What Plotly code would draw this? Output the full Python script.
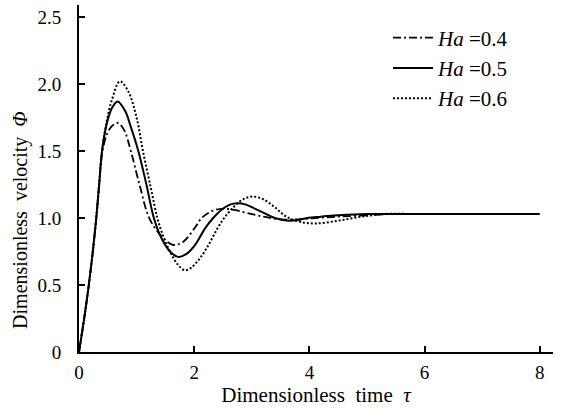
import plotly.graph_objects as go

# Ha = 0.4 (dash-dot)
tau_04 = [0, 0.1, 0.17, 0.24, 0.3, 0.35, 0.4, 0.48, 0.56, 0.67, 0.78, 0.9, 1.05, 1.22, 1.42,
          1.63, 1.8, 2.0, 2.13, 2.3, 2.5, 2.7, 2.9, 3.2, 3.5, 3.8, 4.1, 4.5, 5.0, 5.4, 5.75]
phi_04 = [0, 0.28, 0.5, 0.75, 1.0, 1.25, 1.48, 1.62, 1.68, 1.71, 1.66, 1.5, 1.25, 1.0, 0.87,
          0.80, 0.82, 0.92, 1.0, 1.05, 1.07, 1.06, 1.04, 1.01, 0.99, 0.99, 1.0, 1.01, 1.02, 1.03, 1.03]

# Ha = 0.5 (solid)
tau_05 = [0, 0.1, 0.17, 0.24, 0.3, 0.35, 0.4, 0.48, 0.57, 0.67, 0.8, 0.9, 1.03, 1.17, 1.3, 1.42,
          1.58, 1.72, 1.86, 2.0, 2.2, 2.33, 2.47, 2.62, 2.75, 2.9, 3.05, 3.2, 3.4, 3.63, 3.8, 3.96,
          4.2, 4.5, 5.0, 5.5, 6.0, 7.0, 8.0]
phi_05 = [0, 0.28, 0.5, 0.75, 1.0, 1.25, 1.5, 1.70, 1.82, 1.87, 1.80, 1.68, 1.5, 1.25, 1.0, 0.86,
          0.75, 0.71, 0.73, 0.79, 0.93, 1.0, 1.06, 1.10, 1.11, 1.10, 1.07, 1.04, 1.0, 0.98, 0.985, 1.0,
          1.01, 1.02, 1.03, 1.03, 1.03, 1.03, 1.03]

# Ha = 0.6 (dotted)
tau_06 = [0, 0.1, 0.17, 0.24, 0.3, 0.35, 0.4, 0.48, 0.57, 0.71, 0.85, 1.0, 1.11, 1.25, 1.36,
          1.45, 1.58, 1.72, 1.84, 1.95, 2.1, 2.25, 2.4, 2.52, 2.68, 2.85, 3.02, 3.2, 3.4, 3.6,
          3.85, 4.13, 4.5, 4.9, 5.3, 5.75]
phi_06 = [0, 0.28, 0.5, 0.75, 1.0, 1.25, 1.5, 1.72, 1.88, 2.02, 1.95, 1.75, 1.5, 1.22, 1.0,
          0.88, 0.75, 0.65, 0.61, 0.63, 0.70, 0.80, 0.92, 1.0, 1.08, 1.14, 1.16, 1.14, 1.08, 1.01,
          0.97, 0.96, 0.98, 1.01, 1.03, 1.03]

x_ticks = [0, 2, 4, 6, 8]
y_ticks = [0, 0.5, 1.0, 1.5, 2.0, 2.5]
y_labels = ["0", "0.5", "1.0", "1.5", "2.0", "2.5"]

font = '"Liberation Serif", "Times New Roman", serif'

fig = go.Figure()
fig.add_trace(go.Scatter(x=tau_04, y=phi_04, mode="lines", line_shape="spline",
                         name="<i>H</i><i>a</i> =0.4",
                         line=dict(color="black", width=1.8, dash="8px,3px,2px,3px")))
fig.add_trace(go.Scatter(x=tau_05, y=phi_05, mode="lines", line_shape="spline",
                         name="<i>H</i><i>a</i> =0.5",
                         line=dict(color="black", width=2)))
fig.add_trace(go.Scatter(x=tau_06, y=phi_06, mode="lines", line_shape="spline",
                         name="<i>H</i><i>a</i> =0.6",
                         line=dict(color="black", width=2, dash="2px,2px")))

fig.add_annotation(text="Dimensionless  velocity  <i>Φ</i>", textangle=-90,
                   xref="paper", yref="paper", x=-0.125, y=0.38,
                   xanchor="center", yanchor="middle", showarrow=False,
                   font=dict(size=20, family=font, color="black"))

fig.update_layout(
    width=562, height=409,
    margin=dict(l=79, r=9, t=5, b=57),
    paper_bgcolor="white", plot_bgcolor="white",
    font=dict(family=font, size=19, color="black"),
    legend=dict(x=0.652, y=0.964, xanchor="left", yanchor="top",
                bgcolor="rgba(0,0,0,0)", font=dict(size=21, family=font),
                tracegroupgap=0, itemwidth=40),
    xaxis=dict(range=[0, 8.23], tickvals=x_ticks, ticktext=[str(v) for v in x_ticks],
               ticks="inside", ticklen=6, tickwidth=1.5, tickcolor="black",
               showline=True, linecolor="black", linewidth=2, showgrid=False, zeroline=False,
               ticklabelstandoff=2,
               title=dict(text="Dimensionless  time  <i>τ</i>", standoff=3,
                          font=dict(size=21, family=font)),
               tickfont=dict(size=19, family=font)),
    yaxis=dict(range=[0, 2.59], tickvals=y_ticks, ticktext=y_labels,
               ticks="inside", ticklen=6, tickwidth=1.5, tickcolor="black",
               showline=True, linecolor="black", linewidth=2, showgrid=False, zeroline=False,
               ticklabelstandoff=12,
               tickfont=dict(size=19, family=font)),
)

fig.write_html("out.html")
